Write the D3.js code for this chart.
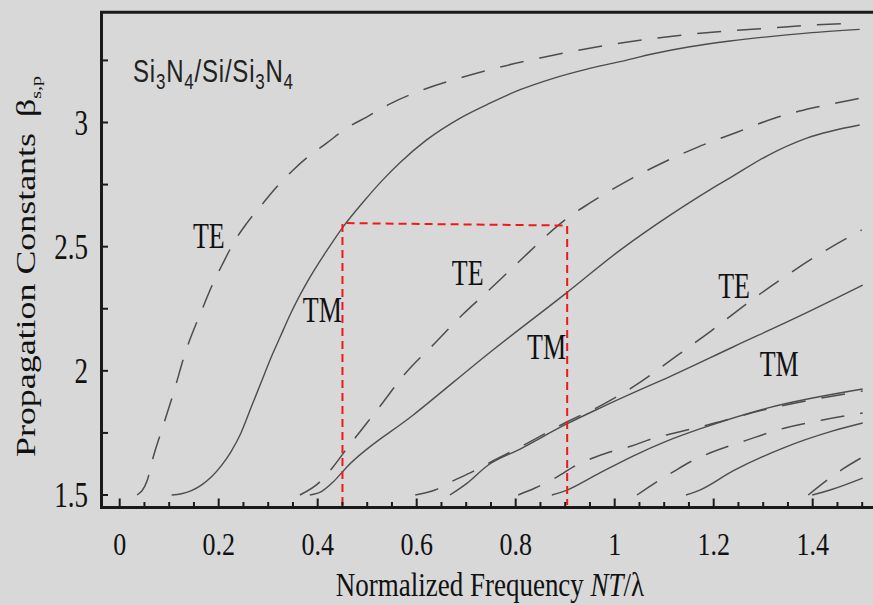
<!DOCTYPE html>
<html><head><meta charset="utf-8">
<script src="https://cdn.jsdelivr.net/npm/d3@7"></script>
<style>
html,body{margin:0;padding:0;background:#d8d8d8;}
svg{display:block;}
</style></head><body>
<svg id="chart" width="873" height="605"></svg>
<script>
// ---------- data ----------
const xTicks = [0, 0.2, 0.4, 0.6, 0.8, 1, 1.2, 1.4];
const xTickLabels = ["0", "0.2", "0.4", "0.6", "0.8", "1", "1.2", "1.4"];
const yTicks = [1.5, 2, 2.5, 3];
const yTickLabels = ["1.5", "2", "2.5", "3"];

const te0 = [[0.035,1.5],[0.055,1.555],[0.068,1.655],[0.088,1.78],[0.11,1.92],[0.132,2.07],[0.166,2.245],[0.188,2.35],[0.209,2.435],[0.233,2.525],[0.257,2.595],[0.29,2.676],[0.317,2.74],[0.35,2.808],[0.38,2.861],[0.418,2.917],[0.459,2.978],[0.499,3.022],[0.546,3.075],[0.617,3.135],[0.694,3.183],[0.768,3.223],[0.849,3.26],[0.924,3.29],[1.005,3.318],[1.085,3.34],[1.162,3.357],[1.239,3.37],[1.318,3.381],[1.398,3.392],[1.48,3.4]];
const tm0 = [[0.105,1.5],[0.125,1.505],[0.145,1.518],[0.165,1.54],[0.185,1.572],[0.205,1.617],[0.225,1.675],[0.245,1.75],[0.265,1.85],[0.285,1.95],[0.305,2.05],[0.325,2.14],[0.344,2.225],[0.378,2.355],[0.418,2.483],[0.451,2.579],[0.492,2.68],[0.532,2.77],[0.566,2.838],[0.62,2.93],[0.688,3.018],[0.748,3.078],[0.809,3.132],[0.876,3.178],[0.944,3.215],[1.011,3.245],[1.078,3.277],[1.152,3.305],[1.233,3.328],[1.308,3.345],[1.388,3.36],[1.495,3.375]];
const te1 = [[0.364,1.5],[0.404,1.552],[0.431,1.613],[0.461,1.693],[0.485,1.754],[0.52,1.842],[0.576,1.987],[0.639,2.116],[0.694,2.229],[0.744,2.321],[0.793,2.414],[0.829,2.482],[0.859,2.539],[0.899,2.607],[0.95,2.676],[1.021,2.76],[1.096,2.837],[1.168,2.901],[1.247,2.961],[1.324,3.018],[1.399,3.058],[1.476,3.09],[1.5,3.1]];
const tm1 = [[0.384,1.5],[0.409,1.516],[0.431,1.552],[0.459,1.613],[0.593,1.822],[0.754,2.084],[0.902,2.313],[1.011,2.486],[1.112,2.627],[1.193,2.73],[1.233,2.777],[1.308,2.866],[1.388,2.937],[1.495,2.99]];
const te2 = [[0.597,1.5],[0.637,1.52],[0.672,1.556],[0.712,1.593],[0.742,1.625],[0.809,1.693],[0.903,1.794],[0.97,1.858],[1.037,1.935],[1.128,2.064],[1.197,2.164],[1.263,2.265],[1.334,2.366],[1.404,2.458],[1.499,2.567]];
const tm2 = [[0.667,1.5],[0.702,1.548],[0.742,1.617],[0.809,1.685],[0.903,1.786],[0.97,1.85],[1.037,1.911],[1.105,1.971],[1.239,2.096],[1.374,2.221],[1.501,2.345]];
const te3 = [[0.805,1.5],[0.839,1.528],[0.883,1.572],[0.92,1.617],[0.956,1.649],[0.99,1.673],[1.034,1.697],[1.067,1.721],[1.105,1.742],[1.172,1.774],[1.308,1.846],[1.501,1.919]];
const tm3 = [[0.873,1.5],[0.904,1.52],[0.97,1.589],[1.037,1.657],[1.105,1.717],[1.172,1.766],[1.308,1.85],[1.501,1.927]];
const te4 = [[1.045,1.5],[1.075,1.54],[1.118,1.593],[1.152,1.633],[1.192,1.669],[1.267,1.721],[1.344,1.77],[1.42,1.802],[1.501,1.83]];
const tm4 = [[1.144,1.5],[1.172,1.52],[1.239,1.597],[1.34,1.689],[1.441,1.758],[1.501,1.79]];
const te5 = [[1.391,1.5],[1.429,1.56],[1.461,1.605],[1.501,1.653]];
const tm5 = [[1.399,1.5],[1.435,1.52],[1.501,1.568]];

const teSeries = [te0, te1, te2, te3, te4, te5];
const tmSeries = [tm0, tm1, tm2, tm3, tm4, tm5];

// highlighted window (red dashed)
const boxX = [0.45, 0.904];
const boxTop = [2.595, 2.585];
const boxBottom = 1.46;

// mode labels
const modeLabels = [
  {t:"TE", x:0.148, y:2.494},
  {t:"TM", x:0.370, y:2.196},
  {t:"TE", x:0.671, y:2.345},
  {t:"TM", x:0.823, y:2.048},
  {t:"TE", x:1.209, y:2.293},
  {t:"TM", x:1.293, y:1.979}
];

// ---------- layout ----------
const W = 873, H = 605;
const L = 101.5, T = 12.3, B = 507.5, R = 873;
const svg = d3.select("#chart");
svg.append("rect").attr("width", W).attr("height", H).attr("fill", "#d8d8d8");

const x = d3.scaleLinear().domain([0, 1.5]).range([119.7, 862.2]);
const y = d3.scaleLinear().domain([1.5, 3]).range([495, 122.5]);

const curveColor = "#4d4d4d";
const line = d3.line().x(d => x(d[0])).y(d => y(d[1])).curve(d3.curveMonotoneX);

const g = svg.append("g");
tmSeries.forEach(s => {
  g.append("path").attr("d", line(s)).attr("fill", "none")
    .attr("stroke", curveColor).attr("stroke-width", 1.4);
});
teSeries.forEach(s => {
  g.append("path").attr("d", line(s)).attr("fill", "none")
    .attr("stroke", curveColor).attr("stroke-width", 1.5)
    .attr("stroke-dasharray", "24,16");
});

// red dashed window
const boxPts = [[boxX[0], boxBottom], [boxX[0], boxTop[0]], [boxX[1], boxTop[1]], [boxX[1], boxBottom]];
svg.append("path")
  .attr("d", d3.line().x(d => x(d[0])).y(d => y(d[1]))(boxPts))
  .attr("fill", "none").attr("stroke", "#f01818").attr("stroke-width", 2)
  .attr("stroke-dasharray", "8,5");

// frame
const axisColor = "#1a1a1a";
svg.append("path")
  .attr("d", `M${R},${T}H${L}V${B}H${R}`)
  .attr("fill", "none").attr("stroke", axisColor).attr("stroke-width", 3);

// x ticks (every 0.05, major at 0.2)
const xMinor = d3.range(0, 31).map(i => i * 0.05);
svg.append("g").selectAll("line").data(xMinor).join("line")
  .attr("x1", d => x(d)).attr("x2", d => x(d))
  .attr("y1", B).attr("y2", d => (Math.abs(d / 0.2 - Math.round(d / 0.2)) < 1e-6) ? B - 9 : B - 5.5)
  .attr("stroke", axisColor).attr("stroke-width", 2);

// y ticks every 0.25
const yMinor = d3.range(0, 8).map(i => 1.5 + i * 0.25);
svg.append("g").selectAll("line").data(yMinor).join("line")
  .attr("x1", L).attr("x2", L + 6.5)
  .attr("y1", d => y(d)).attr("y2", d => y(d))
  .attr("stroke", axisColor).attr("stroke-width", 2);

const serif = "'Liberation Serif','Times New Roman',serif";
const kx = 1.25, ky = 1.3;

// x tick labels
svg.append("g").selectAll("text").data(xTicks).join("text")
  .attr("transform", d => `translate(${x(d)},555) scale(1,${kx})`)
  .attr("text-anchor", "middle").attr("font-family", serif).attr("font-size", 26)
  .attr("fill", "#111").text((d, i) => xTickLabels[i]);

// y tick labels
svg.append("g").selectAll("text").data(yTicks).join("text")
  .attr("transform", d => `translate(88,${y(d) + 12}) scale(1,${ky})`)
  .attr("text-anchor", "end").attr("font-family", serif).attr("font-size", 27)
  .attr("fill", "#111").text((d, i) => yTickLabels[i]);

// x axis title
const xt = svg.append("text")
  .attr("transform", `translate(490,596) scale(1,1.25)`)
  .attr("text-anchor", "middle").attr("font-family", serif).attr("font-size", 27).attr("fill", "#111");
xt.append("tspan").text("Normalized Frequency ");
xt.append("tspan").attr("font-style", "italic").text("NT");
xt.append("tspan").text("/");
xt.append("tspan").text("λ");

// y axis title
const yt = svg.append("text")
  .attr("transform", `translate(35,457) scale(1,1.33) rotate(-90)`)
  .attr("text-anchor", "start").attr("font-family", serif).attr("font-size", 27).attr("fill", "#111");
yt.append("tspan").text("Propagation Constants");
yt.append("tspan").attr("dx", 12).text("β");
yt.append("tspan").attr("font-size", 15).attr("dy", 6).text("s,p");

// structure label
const sans = "'Liberation Sans', Arial, sans-serif";
const st = svg.append("text")
  .attr("transform", `translate(${x(0.027)},${y(3.163)}) scale(1,1.28)`)
  .attr("font-family", sans).attr("font-size", 24).attr("fill", "#222")
  .attr("textLength", 160).attr("lengthAdjust", "spacing");
const parts = [["Si",0],["3",1],["N",0],["4",1],["/Si/Si",0],["3",1],["N",0],["4",1]];
parts.forEach(p => {
  st.append("tspan").attr("font-size", p[1] ? 17 : 24)
    .attr("dy", p[1] ? 5.5 : (p[0] === "Si" ? 0 : -5.5)).text(p[0]);
});

// mode labels
svg.append("g").selectAll("text").data(modeLabels).join("text")
  .attr("transform", d => `translate(${x(d.x)},${y(d.y)}) scale(1,1.35)`)
  .attr("font-family", serif).attr("font-size", 26).attr("fill", "#111")
  .text(d => d.t);
</script>
</body></html>
